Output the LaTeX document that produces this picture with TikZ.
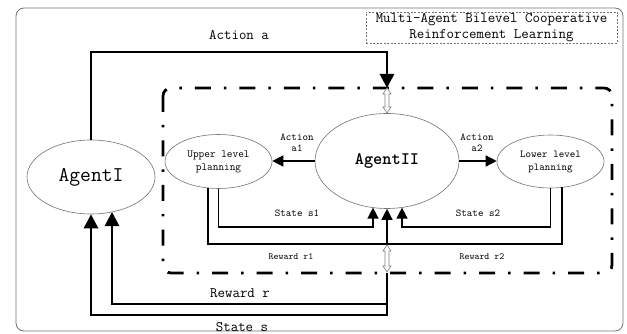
\documentclass[tikz,border=0pt]{standalone}
\usetikzlibrary{arrows.meta,shapes.geometric}
\begin{document}
\begin{tikzpicture}[x=1pt,y=-1pt,
  ell/.style={ellipse, draw=black!55, line width=0.6pt, inner sep=0pt, align=center},
  thinline/.style={line width=1.4pt},
  thickline/.style={line width=2.8pt},
  smalltip/.style={-{Triangle[length=11pt,width=11pt]}},
  bigtip/.style={-{Triangle[length=14pt,width=14pt]}},
  lbl/.style={font=\ttfamily\fontsize{10.5}{11.5}\selectfont, align=center, inner sep=0pt},
  lblsmall/.style={font=\ttfamily\fontsize{9.5}{11}\selectfont, align=center, inner sep=0pt},
  lblbig/.style={font=\ttfamily\fontsize{14.5}{16}\selectfont, align=center, inner sep=0pt},
  hollow/.style={draw=black!50, fill=white, line width=0.6pt},
  dashdotbox/.style={line width=2.8pt, rounded corners=8pt, dash pattern=on 16pt off 13pt on 2.5pt off 13pt}
]
\useasboundingbox (0,0) rectangle (627,334);

% outer frame
\draw[black!55, line width=0.8pt, rounded corners=8pt] (16,8) rectangle (623,331);

% title box
\node[draw=black!55, dash pattern=on 2pt off 1.5pt, line width=0.6pt,
      minimum width=251pt, minimum height=31pt, inner sep=0pt,
      font=\ttfamily\fontsize{14.5}{16.5}\selectfont, align=center] (title) at (491.5,27.5)
      {Multi-Agent Bilevel Cooperative\\Reinforcement Learning};

% dash-dot inner region
\draw[dashdotbox] (163,88) rectangle (612,273);

% ellipses
\node[ell, minimum width=128pt, minimum height=74pt, font=\ttfamily\fontsize{21}{22}\selectfont] (ag1) at (91,177) {AgentI};
\node[ell, minimum width=144pt, minimum height=95pt, font=\ttfamily\bfseries\fontsize{17.5}{19}\selectfont] (ag2) at (387,161) {AgentII};
\node[ell, minimum width=107pt, minimum height=54pt, font=\ttfamily\fontsize{11}{13}\selectfont] (up) at (218.5,161.5) {Upper level\\planning};
\node[ell, minimum width=107pt, minimum height=53pt, font=\ttfamily\fontsize{10.5}{13}\selectfont] (lo) at (550.5,161.5) {Lower level\\planning};

% coordinates
\coordinate (ca) at (387,52);
\coordinate (tipA) at (387,88);
\coordinate (b0) at (387,273);
\coordinate (cr) at (112,304);
\coordinate (tipR) at (112,212);
\coordinate (cs) at (91,315);
\coordinate (c1) at (373,227);
\coordinate (t1) at (373,207.6);
\coordinate (c2) at (402,227);
\coordinate (t2) at (402,207.6);
\coordinate (r1s) at (208,188);
\coordinate (rl) at (208,244);
\coordinate (rr) at (562,244);
\coordinate (r2e) at (562,187.4);
\coordinate (rm) at (387,244);

% Action a
\draw[thickline, bigtip] (ag1.north) |- (ca) -- (tipA);
% Reward r and State s
\draw[thickline, bigtip] (b0) |- (cr) -- (tipR);
\draw[thickline, bigtip] (b0) |- (cs) -- (ag1.south);

% Action a1, a2
\draw[thinline, smalltip] (ag2.west) -- (ag2.west -| up.east);
\draw[thinline, smalltip] (ag2.east) -- (ag2.east -| lo.west);

% States
\draw[thinline, smalltip] (up.south) |- (c1) -- (t1);
\draw[thinline, smalltip] (lo.south) |- (c2) -- (t2);

% Rewards
\draw[thinline] (r1s) -- (rl) -- (rr) -- (r2e);
\draw[thinline, smalltip] (rm) -- (ag2.south);

% hollow double arrows
\draw[hollow] (387,88) -- ++(4,6) -- ++(-2,0) -- (389,107) -- ++(2,0) -- (387,113) -- ++(-4,-6) -- ++(2,0) -- (385,94) -- ++(-2,0) -- cycle;
\draw[hollow] (387,245) -- ++(4,6) -- ++(-2,0) -- (389,266) -- ++(2,0) -- (387,272) -- ++(-4,-6) -- ++(2,0) -- (385,251) -- ++(-2,0) -- cycle;

% labels
\node[lbl] (la1) at (297,143) {Action\\a1};
\node[lbl] (la2) at (477,143) {Action\\a2};
\node[lbl] (ls1) at (297,213) {State s1};
\node[lbl] (ls2) at (478,213) {State s2};
\node[lblsmall] (lr1) at (291,257) {Reward r1};
\node[lblsmall] (lr2) at (482,257) {Reward r2};
\node[lblbig] (la) at (239,35) {Action a};
\node[lblbig] (lr) at (240,293) {Reward r};
\node[lblbig] (lst) at (242,327) {State s};
\end{tikzpicture}
\end{document}
